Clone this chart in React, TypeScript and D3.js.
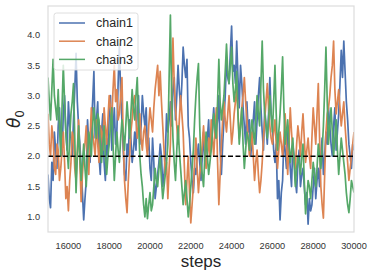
import React from 'react';
import * as d3 from 'd3';

// trace values, evenly spaced samples from step 15000 to step 30000
const chain1 = [
  1.7, 1.3, 1.15, 1.9, 1.6, 2.4, 2.1, 1.8, 2.5, 2.8, 2.2, 2.0, 2.7, 3.0, 2.4,
  2.1, 2.9, 2.5, 2.3, 2.0, 2.6, 3.1, 3.7, 2.9, 2.5, 2.2, 1.8, 1.4, 0.95, 1.3, 1.6,
  2.6, 2.2, 1.9, 2.5, 2.9, 3.4, 2.3, 2.6, 2.9, 2.0, 1.7, 2.4, 2.7, 1.9, 1.6, 2.3,
  2.0, 2.7, 3.0, 2.1, 2.4, 2.8, 2.2, 2.4, 3.2, 3.85, 3.0, 2.6, 2.1, 1.7, 1.6, 2.2,
  2.0, 2.6, 2.3, 1.9, 2.1, 2.4, 2.1, 2.8, 3.0, 2.2, 2.5, 3.0, 2.7, 2.5, 2.8, 2.1,
  2.3, 1.8, 1.6, 2.3, 1.9, 1.3, 1.5, 1.7, 1.9, 2.2, 2.0, 1.5, 1.7, 2.0, 2.7, 2.4,
  2.6, 2.9, 2.5, 3.1, 3.3, 2.6, 3.0, 3.5, 3.1, 2.8, 3.2, 3.8, 3.5, 3.3, 3.6, 2.5,
  2.3, 1.9, 1.6, 1.4, 1.8, 1.7, 2.0, 2.2, 1.9, 1.6, 2.0, 2.4, 1.9, 2.1, 2.3, 2.6,
  2.0, 2.2, 2.5, 2.8, 2.3, 2.4, 2.6, 3.0, 2.1, 1.7, 2.2, 2.6, 3.0, 3.6, 3.3, 3.2,
  3.7, 4.15, 3.4, 3.5, 3.2, 3.9, 3.3, 2.8, 3.5, 3.2, 2.8, 2.5, 2.2, 2.9, 2.4, 2.6,
  2.0, 2.3, 2.6, 2.9, 2.2, 2.6, 3.0, 3.3, 2.8, 2.4, 2.1, 2.8, 2.5, 2.2, 2.7, 3.3,
  2.7, 2.5, 2.1, 1.9, 2.2, 1.3, 1.6, 0.95, 1.4, 1.6, 2.3, 2.1, 1.8, 2.5, 2.2, 1.8,
  1.5, 2.2, 2.0, 1.6, 1.4, 1.9, 2.1, 1.5, 1.7, 1.8, 1.5, 1.2, 1.4, 0.88, 1.3, 1.1,
  1.2, 1.5, 1.8, 1.3, 1.6, 1.8, 1.5, 2.0, 2.3, 1.7, 2.0, 2.4, 2.2, 2.8, 2.5, 2.2,
  2.0, 2.5, 2.8, 2.1, 2.4, 2.7, 3.2, 3.75, 3.3, 3.9, 3.4, 2.9, 2.6, 2.2, 2.0, 1.8, 2.2, 2.1,
];

const chain2 = [
  2.7, 2.2, 2.0, 2.5, 2.3, 1.8, 1.7, 2.2, 2.1, 1.6, 1.8, 2.1, 2.4, 1.9, 1.3,
  1.5, 1.1, 1.6, 1.9, 2.4, 2.3, 1.8, 1.6, 2.1, 2.6, 1.9, 1.25, 1.7, 2.0, 2.2, 2.5,
  2.0, 1.7, 2.3, 2.8, 2.4, 2.2, 2.0, 2.6, 2.2, 1.9, 2.5, 2.4, 2.1, 2.8, 2.5, 2.2,
  2.6, 3.0, 2.8, 2.6, 3.1, 3.5, 2.9, 3.1, 2.6, 2.7, 3.0, 3.3, 2.3, 1.6, 1.3, 1.07,
  1.6, 2.0, 2.4, 2.6, 2.9, 3.0, 2.6, 2.3, 2.5, 2.7, 2.3, 2.1, 2.4, 2.5, 2.2, 2.0,
  2.5, 2.8, 2.6, 2.4, 2.8, 3.1, 3.3, 3.5, 3.0, 3.4, 2.9, 2.5, 2.1, 1.7, 1.9, 1.3,
  1.8, 2.2, 3.1, 3.95, 3.2, 2.8, 2.5, 2.2, 2.6, 3.0, 2.7, 2.4, 1.8, 1.2, 1.6, 2.0,
  1.4, 0.9, 1.2, 1.5, 1.9, 2.3, 1.8, 1.4, 1.7, 1.9, 2.2, 2.5, 2.1, 1.8, 2.0, 2.3,
  2.0, 2.6, 2.3, 2.0, 2.4, 2.8, 1.9, 1.2, 1.7, 2.2, 2.6, 2.9, 2.6, 2.4, 2.7, 3.0,
  2.6, 2.2, 2.4, 2.7, 2.9, 3.1, 2.7, 2.3, 2.5, 2.8, 3.0, 3.3, 2.9, 2.6, 2.3, 2.0,
  2.2, 2.4, 2.0, 1.6, 1.9, 2.1, 1.7, 1.4, 1.6, 1.9, 2.3, 2.6, 2.9, 3.2, 2.8, 2.5,
  2.3, 2.2, 2.4, 2.6, 2.2, 1.8, 2.1, 2.4, 2.2, 2.0, 2.3, 2.7, 2.2, 1.7, 2.2, 2.8,
  2.4, 2.1, 1.9, 1.8, 2.2, 2.5, 2.3, 2.0, 2.4, 2.7, 2.3, 1.9, 2.1, 2.3, 2.0, 1.8,
  2.3, 2.8, 2.5, 2.2, 2.7, 3.2, 2.3, 1.5, 1.2, 0.98, 1.7, 2.4, 2.7, 2.8, 3.0, 3.3,
  3.5, 3.9, 3.1, 2.7, 2.9, 3.1, 2.8, 2.5, 2.7, 2.9, 2.5, 2.2, 1.9, 1.6, 1.8, 2.0, 2.2, 2.4,
];

const chain3 = [
  3.3, 2.9, 2.6, 3.1, 3.6, 3.0, 2.8, 2.6, 3.1, 2.5, 2.0, 2.8, 3.5, 2.9, 2.4,
  2.1, 1.8, 2.3, 2.7, 2.9, 3.2, 2.3, 1.4, 2.0, 2.5, 2.0, 1.6, 1.9, 2.2, 1.8, 1.5,
  2.0, 2.4, 2.2, 2.0, 2.5, 2.8, 2.5, 2.3, 2.7, 2.6, 2.2, 1.9, 2.2, 2.5, 2.0, 1.7,
  2.0, 2.2, 2.5, 2.8, 2.2, 1.6, 2.0, 2.4, 2.1, 1.9, 2.3, 2.6, 2.4, 2.1, 2.5, 2.9,
  2.6, 2.3, 2.7, 3.1, 2.8, 2.6, 3.0, 3.3, 2.6, 2.0, 1.7, 1.5, 1.2, 1.0, 1.3, 0.97,
  1.2, 1.4, 1.1, 1.2, 1.5, 1.8, 1.6, 1.5, 1.8, 2.0, 1.6, 1.3, 1.5, 1.7, 1.9, 2.2,
  3.3, 4.33, 3.0, 2.3, 1.9, 1.6, 2.1, 2.5, 2.1, 1.8, 1.5, 1.2, 1.4, 1.6, 1.3, 1.0,
  1.2, 1.5, 1.8, 2.1, 2.6, 3.0, 3.3, 3.53, 2.5, 1.9, 1.7, 1.5, 2.0, 2.4, 2.0, 1.7,
  1.9, 2.1, 2.4, 2.7, 2.5, 2.3, 2.9, 3.6, 2.9, 2.6, 2.8, 3.0, 3.4, 3.85, 3.4, 3.2,
  3.5, 3.8, 3.2, 2.9, 3.1, 3.4, 2.7, 2.2, 2.5, 2.8, 2.2, 1.8, 2.1, 2.4, 2.3, 2.1,
  2.4, 2.6, 2.4, 2.2, 2.6, 3.0, 2.7, 2.5, 3.2, 3.9, 3.1, 2.7, 2.5, 2.3, 2.6, 3.0,
  2.7, 2.4, 2.9, 3.5, 2.7, 2.1, 2.4, 2.7, 3.1, 3.64, 2.8, 2.2, 2.4, 2.6, 2.2, 1.9,
  2.1, 2.3, 1.9, 1.5, 1.8, 2.0, 1.9, 1.7, 2.0, 2.2, 1.6, 1.05, 1.3, 1.6, 1.5, 1.3,
  1.6, 1.9, 1.7, 1.5, 1.8, 2.2, 2.0, 1.8, 2.1, 2.5, 3.1, 3.8, 2.9, 2.2, 2.5, 2.8,
  2.4, 2.0, 2.3, 2.6, 2.1, 1.7, 2.0, 2.3, 2.1, 1.9, 1.7, 1.4, 1.2, 1.07, 1.3, 1.6, 1.5, 1.4,
];

const chainNames = ['chain1', 'chain2', 'chain3'];
const chainColors = ['#4c72b0', '#dd8452', '#55a868'];
const xTicks = [16000, 18000, 20000, 22000, 24000, 26000, 28000, 30000];
const yTicks = [1.0, 1.5, 2.0, 2.5, 3.0, 3.5, 4.0];
const firstStep = 15000;
const lastStep = 30000;
const trueValue = 2.0;

const W = 374;
const H = 276;
const margin = { top: 6, right: 20, bottom: 44, left: 48 };
const font = '"Liberation Sans", Arial, sans-serif';

export default function App() {
  const x = d3.scaleLinear().domain([firstStep, lastStep]).range([margin.left, W - margin.right]);
  const y = d3.scaleLinear().domain([0.75, 4.48]).range([H - margin.bottom, margin.top]);

  const chains = [chain1, chain2, chain3];
  const [x0, x1] = x.range();
  const [y0, y1] = y.range();

  const lineFor = (values: number[]) => {
    const step = (lastStep - firstStep) / (values.length - 1);
    return d3.line<number>()
      .x((_, i) => x(firstStep + i * step))
      .y((d) => y(d))(values) ?? '';
  };

  return (
    <svg width={W} height={H} style={{ position: 'absolute', left: 0, top: 0, background: '#fff' }}>
      <defs>
        <clipPath id="plot-clip">
          <rect x={x0} y={y1} width={x1 - x0} height={y0 - y1} />
        </clipPath>
      </defs>

      <g clipPath="url(#plot-clip)">
        {chains.map((c, k) => (
          <path
            key={k}
            d={lineFor(c)}
            fill="none"
            stroke={chainColors[k]}
            strokeWidth={1.7}
            strokeLinejoin="round"
          />
        ))}
        <line
          x1={x0} x2={x1} y1={y(trueValue)} y2={y(trueValue)}
          stroke="#000" strokeWidth={1.4} strokeDasharray="5,2.5"
        />
      </g>

      {/* frame */}
      <rect x={x0} y={y1} width={x1 - x0} height={y0 - y1} fill="none" stroke="#dcdcdc" strokeWidth={1.2} />

      {yTicks.map((t) => (
        <text key={t} x={x0 - 8} y={y(t)} dy="0.35em" textAnchor="end"
          fontFamily={font} fontSize={9.2} fill="#333">{t.toFixed(1)}</text>
      ))}
      {xTicks.map((t) => (
        <text key={t} x={x(t)} y={y0 + 16.5} textAnchor="middle"
          fontFamily={font} fontSize={9.2} fill="#333">{t}</text>
      ))}

      <text x={(x0 + x1) / 2} y={266.5} textAnchor="middle" fontFamily={font} fontSize={17} fill="#262626">steps</text>
      <text transform={`translate(20,${(y0 + y1) / 2}) rotate(-90)`} textAnchor="middle"
        fontFamily='"DejaVu Sans", sans-serif' fontSize={17} fill="#262626">
        <tspan fontStyle="italic">θ</tspan>
        <tspan fontSize={12} dy={4}>0</tspan>
      </text>

      {/* legend */}
      <g>
        <rect x={54} y={13} width={84} height={57} rx={2.5} fill="#fff" fillOpacity={0.8} stroke="#d6d6d6" strokeWidth={0.8} />
        {chainNames.map((n, k) => (
          <g key={n} transform={`translate(0,${23 + k * 18.2})`}>
            <line x1={59} x2={85} y1={0} y2={0} stroke={chainColors[k]} strokeWidth={1.5} />
            <text x={96} y={0} dy="0.35em" fontFamily={font} fontSize={12.5} fill="#262626">{n}</text>
          </g>
        ))}
      </g>
    </svg>
  );
}
